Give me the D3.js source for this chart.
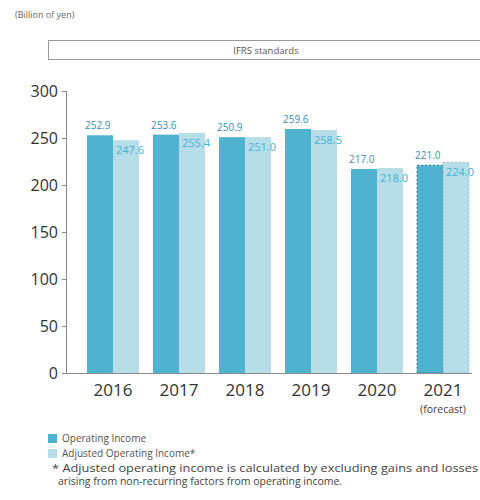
<!DOCTYPE html>
<html>
<head>
<meta charset="utf-8">
<script src="https://cdn.jsdelivr.net/npm/d3@7"></script>
<style>
  html, body { margin: 0; padding: 0; background: #fff; }
  svg { display: block; font-family: "Open Sans", "Noto Sans", sans-serif; }
</style>
</head>
<body>
<svg id="chart" width="480" height="500"></svg>
<script>
const years = ["2016", "2017", "2018", "2019", "2020", "2021"];
const operatingIncome = [252.9, 253.6, 250.9, 259.6, 217.0, 221.0];
const adjustedIncome = [247.6, 255.4, 251.0, 258.5, 218.0, 224.0];
const forecastYears = ["2021"];
const yTicks = [0, 50, 100, 150, 200, 250, 300];
const seriesKeys = ["op", "adj"];
const legendLabels = ["Operating Income", "Adjusted Operating Income*"];

const colors = { op: "#4fb3cf", adj: "#b6dde8" };
const labelColors = { op: "#3b8fb3", adj: "#45b3d4" };

const svg = d3.select("#chart");

const x0 = d3.scaleBand().domain(years).range([80, 476]).paddingInner(14 / 66).paddingOuter(7 / 66);
const x1 = d3.scaleBand().domain(seriesKeys).range([0, x0.bandwidth()]).padding(0);
const y = d3.scaleLinear().domain([0, 300]).range([373, 91]);

// Unit label
svg.append("text").attr("x", 15).attr("y", 18)
  .attr("font-size", 9).attr("fill", "#666").text("(Billion of yen)");

// IFRS box
svg.append("rect").attr("x", 48.5).attr("y", 40.5).attr("width", 440).attr("height", 19)
  .attr("fill", "#fff").attr("stroke", "#9a9a9a").attr("stroke-width", 1);
svg.append("text").attr("x", 266).attr("y", 53.5).attr("text-anchor", "middle")
  .attr("font-size", 9.5).attr("fill", "#555").text("IFRS standards");

// Y axis
const yAxis = d3.axisLeft(y).tickValues(yTicks).tickSize(5).tickPadding(4).tickFormat(d3.format("d"));
const gy = svg.append("g").attr("transform", "translate(67,0)").call(yAxis);
gy.select(".domain").attr("stroke", "#8a8a8a").attr("d", "M-0.5,91V373.5");
gy.selectAll(".tick line").attr("stroke", "#8a8a8a");
gy.selectAll(".tick text").attr("font-size", 16).attr("fill", "#333")
  .attr("font-family", "'Open Sans', sans-serif");

// data rows
const rows = years.map((yr, i) => ({ year: yr, op: operatingIncome[i], adj: adjustedIncome[i] }));

const groups = svg.append("g").selectAll("g").data(rows).join("g")
  .attr("transform", d => `translate(${x0(d.year)},0)`);

groups.selectAll("rect").data(d => seriesKeys.map(k => ({ key: k, value: d[k], year: d.year })))
  .join("rect")
  .attr("x", d => x1(d.key))
  .attr("y", d => y(d.value))
  .attr("width", x1.bandwidth())
  .attr("height", d => y(0) - y(d.value))
  .attr("fill", d => colors[d.key])
  .attr("stroke", d => forecastYears.includes(d.year) ? (d.key === "op" ? "#2d7c98" : "#8fbccc") : "none")
  .attr("stroke-width", d => forecastYears.includes(d.year) ? 1 : 0)
  .attr("stroke-dasharray", "2,2");

// Baseline
svg.append("line").attr("x1", 66.5).attr("x2", 472).attr("y1", 373.5).attr("y2", 373.5)
  .attr("stroke", "#8a8a8a").attr("stroke-width", 1);

// Value labels
groups.append("text")
  .attr("x", d => x1("op") - 2)
  .attr("y", d => y(d.op) - 6)
  .attr("font-size", 10).attr("fill", labelColors.op)
  .text(d => d.op.toFixed(1));
groups.append("text")
  .attr("x", d => x1("adj") + 3)
  .attr("y", d => y(d.adj) + 14)
  .attr("font-size", 11).attr("fill", labelColors.adj)
  .text(d => d.adj.toFixed(1));

// X labels
svg.append("g").selectAll("text").data(years).join("text")
  .attr("x", d => x0(d) + x0.bandwidth() / 2)
  .attr("y", 396)
  .attr("text-anchor", "middle")
  .attr("font-size", 17).attr("fill", "#333")
  .text(d => d);
svg.append("text")
  .attr("x", x0("2021") + x0.bandwidth() / 2)
  .attr("y", 413)
  .attr("text-anchor", "middle")
  .attr("font-size", 10.5).attr("fill", "#444")
  .text("(forecast)");

// Legend
const legend = svg.append("g");
seriesKeys.forEach((k, i) => {
  legend.append("rect").attr("x", 48).attr("y", 434 + i * 15).attr("width", 9).attr("height", 9)
    .attr("fill", colors[k]);
  legend.append("text").attr("x", 62).attr("y", 442 + i * 15)
    .attr("font-size", 10).attr("fill", "#555").text(legendLabels[i]);
});

// Footnote
svg.append("text").attr("x", 52).attr("y", 472).attr("font-size", 10.5).attr("fill", "#444")
  .attr("textLength", 426).attr("lengthAdjust", "spacingAndGlyphs")
  .text("* Adjusted operating income is calculated by excluding gains and losses");
svg.append("text").attr("x", 58).attr("y", 485).attr("font-size", 10.5).attr("fill", "#444")
  .text("arising from non-recurring factors from operating income.");
</script>
</body>
</html>
